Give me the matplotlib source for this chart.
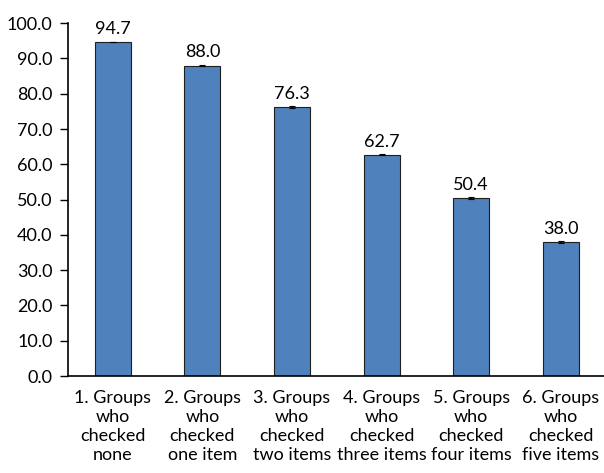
import matplotlib
matplotlib.use("Agg")
import matplotlib.pyplot as plt
import numpy as np

categories = ["1. Groups\nwho\nchecked\nnone", "2. Groups\nwho\nchecked\none item",
              "3. Groups\nwho\nchecked\ntwo items", "4. Groups\nwho\nchecked\nthree items",
              "5. Groups\nwho\nchecked\nfour items", "6. Groups\nwho\nchecked\nfive items"]
values = [94.7, 88.0, 76.3, 62.7, 50.4, 38.0]
errors = [0.1, 0.1, 0.2, 0.2, 0.3, 0.4]
labels = ["94.7", "88.0", "76.3", "62.7", "50.4", "38.0"]
yticks = [0, 10, 20, 30, 40, 50, 60, 70, 80, 90, 100]

plt.rcParams['font.family'] = ['Lato', 'DejaVu Sans']

fig = plt.figure(figsize=(6.04, 4.73), dpi=100)
ax = fig.add_axes([0.1126, 0.205, 0.89, 0.746])

x = np.arange(len(values))
ax.bar(x, values, width=0.40, color="#4F81BD", edgecolor="#1f1f1f", linewidth=0.8,
       yerr=errors, error_kw=dict(ecolor="black", elinewidth=0.8, capsize=2.5, capthick=0.8))
for xi, v, lab in zip(x, values, labels):
    ax.text(xi, v + 1.5, lab, ha="center", va="bottom", fontsize=13)

ax.set_xlim(-0.5, len(values) - 0.5)
ax.set_ylim(0, 100)
ax.set_yticks(yticks)
ax.set_yticklabels([f"{t:.1f}" for t in yticks], fontsize=13)
ax.set_xticks(x)
ax.set_xticklabels(categories, fontsize=13, linespacing=1.22)
ax.tick_params(axis="x", length=0, pad=10)
ax.tick_params(axis="y", length=6, width=1, direction="out", pad=5)
for s in ["top", "right"]:
    ax.spines[s].set_visible(False)
ax.spines["left"].set_linewidth(1.2)
ax.spines["bottom"].set_linewidth(1.2)

fig.savefig("out.png", dpi=100)
